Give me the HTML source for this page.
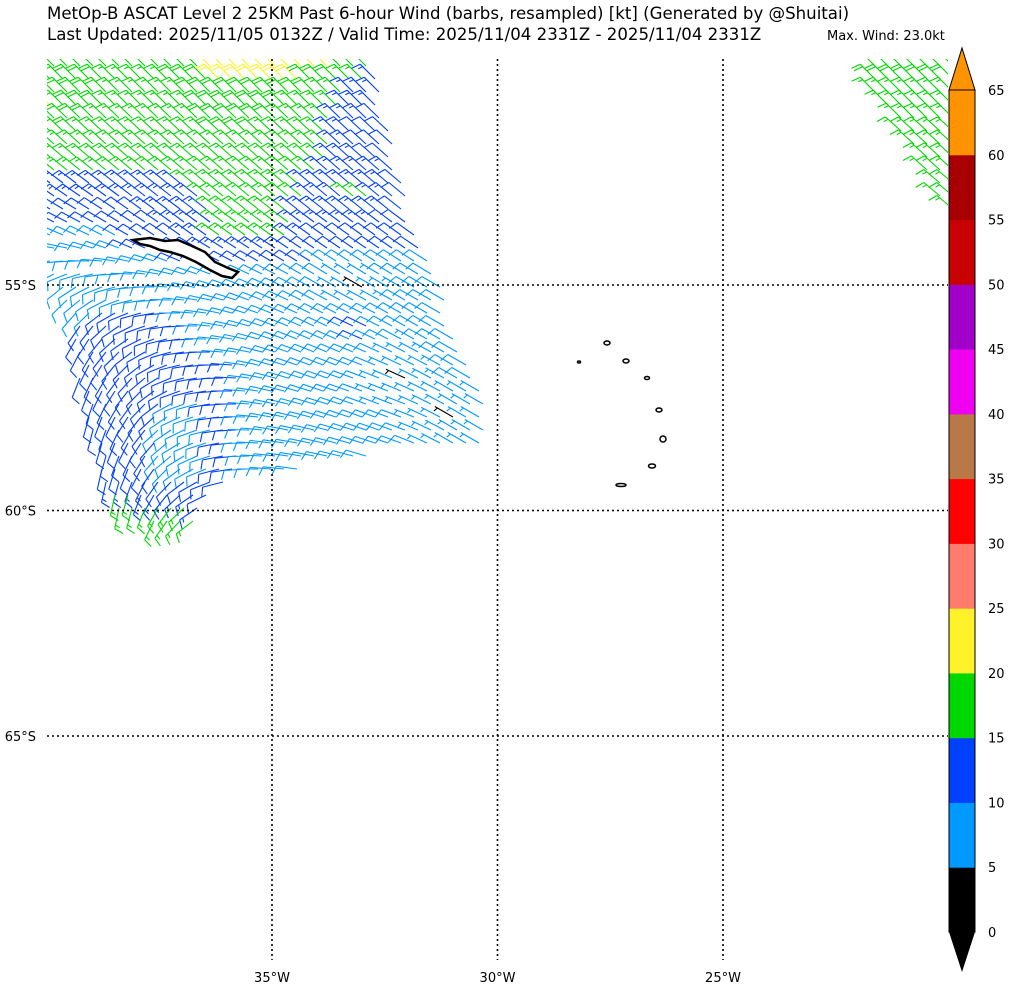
<!DOCTYPE html>
<html><head><meta charset="utf-8"><style>
body{margin:0;background:#fff;}
svg text{font-family:"DejaVu Sans","Liberation Sans",sans-serif;}
</style></head><body>
<svg id="chart" width="1009" height="989" viewBox="0 0 1009 989" xmlns="http://www.w3.org/2000/svg">
<defs><clipPath id="mapclip"><rect x="47" y="59" width="901" height="901"/></clipPath></defs>
<text x="47" y="19" font-size="16.6">MetOp-B ASCAT Level 2 25KM Past 6-hour Wind (barbs, resampled) [kt] (Generated by @Shuitai)</text>
<text x="47" y="40" font-size="16.6">Last Updated: 2025/11/05 0132Z / Valid Time: 2025/11/04 2331Z - 2025/11/04 2331Z</text>
<text x="827" y="40" font-size="13">Max. Wind: 23.0kt</text>
<g id="barbs" clip-path="url(#mapclip)"></g>
<g id="land"></g>
<g id="grid"></g>
<g id="cbar"></g>
</svg>
<script>
// ---- data ----
const gridLons = [-40,-39,-38,-37,-36,-35,-34,-33,-32,-31,-30];
const gridLats = [-50,-51,-52,-53,-54,-55,-56,-57,-58,-59,-60];
const speedRow50 = [18,18,17,18,22,23,22,17,13,12,12];
const speedRow51 = [21,18,17,17,19,18,17,13,12,12,12];
const speedRow52 = [17,17,17,17,17,17,16,12,12,12,12];
const speedRow53 = [14,13,13,14,16,17,14,16,12,12,12];
const speedRow54 = [8,8,11,12,16,16,12,12,11,11,11];
const speedRow55 = [8,8,8,8,8,8,8,4,8,8,8];
const speedRow56 = [8,11,12,11,8,8,9,11,8,8,8];
const speedRow57 = [8,12,12,11,11,8,8,8,4,8,8];
const speedRow58 = [8,12,12,8,11,8,8,8,8,4,8];
const speedRow59 = [12,12,11,8,11,8,8,8,8,8,8];
const speedRow60 = [17,17,17,17,11,8,8,8,8,8,8];
const dirRow50 = [315,315,315,315,315,315,315,315,315,315,315];
const dirRow51 = [315,315,315,315,315,315,315,315,315,315,315];
const dirRow52 = [312,312,312,312,312,312,312,312,312,312,312];
const dirRow53 = [305,305,308,308,310,310,310,310,310,310,310];
const dirRow54 = [290,295,300,305,305,305,305,305,305,305,305];
const dirRow55 = [225,245,265,280,290,295,300,300,300,300,300];
const dirRow56 = [205,215,245,265,280,290,295,295,300,300,300];
const dirRow57 = [195,205,225,255,270,285,290,290,295,300,300];
const dirRow58 = [190,195,215,245,265,280,285,290,290,300,300];
const dirRow59 = [185,190,205,235,260,275,280,285,290,300,300];
const dirRow60 = [180,185,195,225,255,270,280,285,290,300,300];
const swath2Lats = [-50,-51,-52,-53];
const swath2Speed = [18,17,16,17];
const swath2Dir = [315,315,312,310];
const cbarLevels = [0,5,10,15,20,25,30,35,40,45,50,55,60,65];
const cbarColors = ["#000000","#0099ff","#0040ff","#00d800","#fff22a","#ff7b6b","#ff0000","#b87848","#f000f0","#a000c8","#c80000","#a80000","#ff9400"];
const lonTicks = [-35,-30,-25];
const latTicks = [-55,-60,-65];

const speedGrid=[speedRow50,speedRow51,speedRow52,speedRow53,speedRow54,speedRow55,speedRow56,speedRow57,speedRow58,speedRow59,speedRow60];
const dirGrid=[dirRow50,dirRow51,dirRow52,dirRow53,dirRow54,dirRow55,dirRow56,dirRow57,dirRow58,dirRow59,dirRow60];

// ---- axes ----
const PX=45.1;
function xOf(lon){return 272+(lon+35)*PX;}
function yOf(lat){return 285+(-55-lat)*PX;}
function lonOf(x){return (x-272)/PX-35;}
function latOf(y){return -55-(y-285)/PX;}
const NS="http://www.w3.org/2000/svg";
function mk(tag,attrs,parent){const e=document.createElementNS(NS,tag);for(const k in attrs)e.setAttribute(k,attrs[k]);parent.appendChild(e);return e;}

function colorFor(s){let i=Math.floor(s/5);if(i<0)i=0;if(i>12)i=12;return cbarColors[i];}
function bilin(g,lon,lat){
  let c=(lon-gridLons[0]);let r=(gridLats[0]-lat);
  c=Math.max(0,Math.min(gridLons.length-1.001,c));r=Math.max(0,Math.min(gridLats.length-1.001,r));
  const c0=Math.floor(c),r0=Math.floor(r),fc=c-c0,fr=r-r0;
  return g[r0][c0]*(1-fc)*(1-fr)+g[r0][c0+1]*fc*(1-fr)+g[r0+1][c0]*(1-fc)*fr+g[r0+1][c0+1]*fc*fr;
}
function inPoly(x,y,p){let ins=false;for(let i=0,j=p.length-1;i<p.length;j=i++){const xi=p[i][0],yi=p[i][1],xj=p[j][0],yj=p[j][1];if(((yi>y)!=(yj>y))&&(x<(xj-xi)*(y-yi)/(yj-yi)+xi))ins=!ins;}return ins;}
const swath1=[[47,59],[370,59],[395,130],[415,220],[445,300],[475,370],[500,442],[470,445],[400,450],[330,465],[230,480],[205,510],[190,527],[170,527],[110,513],[95,450],[75,360],[62,300],[47,255]];
const swath2=[[860,59],[960,59],[960,215],[945,215],[912,150],[878,100]];

const barbG=document.getElementById('barbs');
function drawBarb(x,y,s,d){
  const col=colorFor(s);
  const r=d*Math.PI/180;const ux=Math.sin(r),uy=-Math.cos(r);
  const L=21;const tx=x+ux*L,ty=y+uy*L;
  const px=uy,py=-ux;
  let path=`M${x.toFixed(1)},${y.toFixed(1)}L${tx.toFixed(1)},${ty.toFixed(1)}`;
  let rem=Math.round(s/5)*5;let pos=0;
  const bx=(len,off)=>{const sx=tx-ux*off,sy=ty-uy*off;const ex=sx+px*len+ux*len*0.35,ey=sy+py*len+uy*len*0.35;return `M${sx.toFixed(1)},${sy.toFixed(1)}L${ex.toFixed(1)},${ey.toFixed(1)}`;};
  if(rem<10&&rem>=5){path+=bx(4.5,3);rem=0;}
  while(rem>=10){path+=bx(9,pos);pos+=3.5;rem-=10;}
  if(rem>=5){path+=bx(4.5,pos);}
  const p=mk('path',{d:path,stroke:col,'stroke-width':1.1,fill:'none'},barbG);
  
  
}
for(let y=66;y<530;y+=13){for(let x=50;x<505;x+=13){
  const xx=x+((Math.round(y/13)%2)*4);
  if(!inPoly(xx,y,swath1))continue;
  const lon=lonOf(xx),lat=latOf(y);
  drawBarb(xx,y,bilin(speedGrid,lon,lat),bilin(dirGrid,lon,lat));
}}
for(let y=66;y<218;y+=13){for(let x=862;x<962;x+=13){
  if(!inPoly(x,y,swath2))continue;
  const lat=latOf(y);let i=Math.min(swath2Lats.length-1,Math.max(0,Math.round(-50-lat)));
  drawBarb(x,y,swath2Speed[i],swath2Dir[i]);
}}

// ---- land ----
const land=document.getElementById('land');
const sg=mk('path',{d:"M133,240 L150,238 L165,241 L178,240 L192,246 L205,252 L215,262 L228,268 L238,272 L232,278 L222,276 L210,270 L196,262 L183,256 L170,252 L160,250 L150,246 L140,244 Z",fill:'#fff',stroke:'#000','stroke-width':2.5},land);

const isl=[[607,343,3,2],[626,361,3,2],[647,378,2.5,1.5],[659,410,3,2],[663,439,3,3],[652,466,3.5,2],[621,485,5,1.5],[579,362,1.5,1]];
isl.forEach(a=>{const e=mk('ellipse',{cx:a[0],cy:a[1],rx:a[2],ry:a[3],fill:'#fff',stroke:'#000','stroke-width':1.5},land);
});

// ---- grid ----
const gridG=document.getElementById('grid');
lonTicks.forEach(l=>{const x=xOf(l);
  const ln=mk('line',{x1:x,y1:59,x2:x,y2:960,stroke:'#000','stroke-width':1.6,'stroke-dasharray':'2,3'},gridG);
  
  const t=mk('text',{x:x,y:982,'font-size':13,'text-anchor':'middle'},gridG);t.textContent=(-l)+'°W';
  });
latTicks.forEach(l=>{const y=yOf(l);
  const ln=mk('line',{x1:47,y1:y,x2:948,y2:y,stroke:'#000','stroke-width':1.6,'stroke-dasharray':'2,3'},gridG);
  
  const t=mk('text',{x:36,y:y+5,'font-size':13,'text-anchor':'end'},gridG);t.textContent=(-l)+'°S';
  });

// ---- colorbar ----
const cb=document.getElementById('cbar');
const cbX=949,cbW=26,cb0=932,cbStep=(932-90)/13;
function cy(v){return cb0-v/5*cbStep;}
for(let i=0;i<cbarColors.length;i++){
  const r=mk('rect',{x:cbX,y:cy(cbarLevels[i]+5),width:cbW,height:cbStep+0.5,fill:cbarColors[i]},cb);
  
}
const tt=mk('path',{d:`M${cbX},${cy(65)} L${cbX+cbW/2},48 L${cbX+cbW},${cy(65)} Z`,fill:cbarColors[12],stroke:'#000','stroke-width':1},cb);

const tb=mk('path',{d:`M${cbX},${cb0} L${cbX+cbW/2},972 L${cbX+cbW},${cb0} Z`,fill:'#000'},cb);

const ol=mk('rect',{x:cbX,y:cy(65),width:cbW,height:cb0-cy(65),fill:'none',stroke:'#000','stroke-width':1},cb);

cbarLevels.forEach(v=>{const t=mk('text',{x:988,y:cy(v)+5,'font-size':13},cb);t.textContent=v;
  });
</script>
</body></html>
